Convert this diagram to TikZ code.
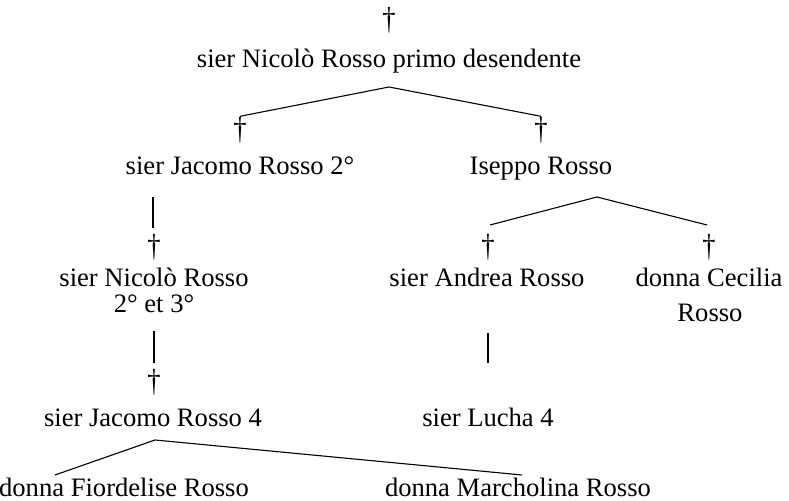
\documentclass[tikz,border=0pt]{standalone}
\usepackage{fontspec}
\usepackage{graphicx}
\setmainfont{Liberation Serif}
\newcommand{\deadsign}{\scalebox{1}[1.2]{†}}
\begin{document}
\begin{tikzpicture}[x=0.5pt,y=-0.5pt,
    every node/.style={inner sep=0pt},
    person/.style={anchor=base, font=\fontsize{13.3}{14}\selectfont},
    deadmark/.style={anchor=south, font=\fontsize{13.3}{14}\selectfont},
    link/.style={line width=0.55pt}]

    \useasboundingbox (0,0) rectangle (789,501);

    \def\ya{68}
    \def\yb{175}
    \def\yc{287}
    \def\yd{427}
    \def\ye{497}

    \node[person] (root) at (389,\ya) {sier Nicolò Rosso primo desendente};
    \node[deadmark] (droot) at (389,34) {\deadsign};

    \node[person] (jac) at (240,\yb) {sier Jacomo Rosso 2°};
    \node[deadmark] (djac) at (240,144) {\deadsign};
    \node[person] (ise) at (541,\yb) {Iseppo Rosso};
    \node[deadmark] (dise) at (541,144) {\deadsign};

    \node[person] (nic) at (154,\yc) {sier Nicolò Rosso};
    \node[person] (nicb) at (154,\yc+26) {2° et 3°};
    \node[deadmark] (dnic) at (154,261) {\deadsign};
    \node[person] (and) at (487,\yc) {sier Andrea Rosso};
    \node[deadmark] (dand) at (488,261) {\deadsign};
    \node[person] (cec) at (709,\yc) {donna Cecilia};
    \node[person] (cecb) at (710,\yc+35) {Rosso};
    \node[deadmark] (dcec) at (709,261) {\deadsign};

    \node[person] (jacq) at (153,\yd) {sier Jacomo Rosso 4};
    \node[deadmark] (djacq) at (154,396) {\deadsign};
    \node[person] (luc) at (488,\yd) {sier Lucha 4};

    \node[person] (fio) at (124,\ye) {donna Fiordelise Rosso};
    \node[person] (mar) at (518,\ye) {donna Marcholina Rosso};

    \coordinate (forka) at (389,87);
    \coordinate (forkb) at (597,197);
    \coordinate (forkc) at (155,440);
    \coordinate (andend) at (490,225);
    \coordinate (cecend) at (707,225);
    \coordinate (fioend) at (55,475);
    \coordinate (marend) at (522,475);
    \coordinate (jactop) at (153,197);
    \coordinate (jacbot) at (153,228);
    \coordinate (nictop) at (154,331);
    \coordinate (nicbot) at (154,363);
    \coordinate (andtop) at (488,333);
    \coordinate (andbot) at (488,363);

    \draw[link] ([yshift=0.5pt]djac.north) -- (forka) -- ([yshift=0.5pt]dise.north);
    \draw[link] (andend) -- (forkb) -- (cecend);
    \draw[link] (jactop) -- (jacbot);
    \draw[link] (nictop) -- (nicbot);
    \draw[link] (andtop) -- (andbot);
    \draw[link] (fioend) -- (forkc) -- (marend);

\end{tikzpicture}
\end{document}
